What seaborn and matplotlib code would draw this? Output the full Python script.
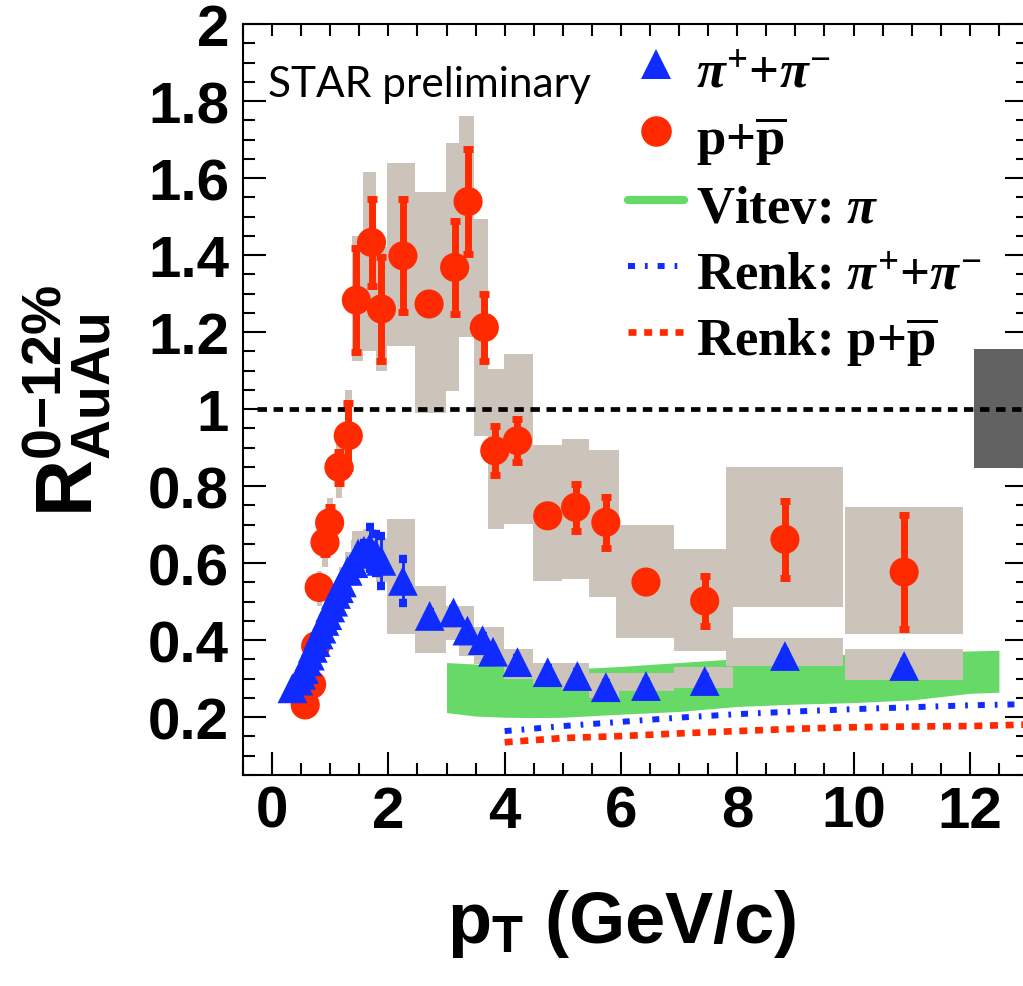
import matplotlib
matplotlib.use("Agg")
import numpy as np
import pandas as pd
import matplotlib.pyplot as plt
from matplotlib.lines import Line2D
from matplotlib.font_manager import FontProperties, fontManager
import seaborn as sns

# ---------------- data ----------------
pi_pt = [0.35, 0.45, 0.50, 0.55, 0.60, 0.65, 0.70, 0.75, 0.80, 0.85, 0.90, 0.95, 1.00, 1.05,
         1.10, 1.15, 1.20, 1.30, 1.40, 1.48, 1.58, 1.68, 1.78, 1.88, 2.25, 2.71, 3.12, 3.36,
         3.62, 3.80, 4.22, 4.74, 5.25, 5.74, 6.43, 7.44, 8.82, 10.87]
pi_val = [0.275, 0.295, 0.310, 0.325, 0.345, 0.360, 0.380, 0.395, 0.415, 0.430, 0.450, 0.465,
          0.485, 0.500, 0.520, 0.535, 0.550, 0.580, 0.600, 0.625, 0.632, 0.640, 0.625, 0.606,
          0.554, 0.463, 0.472, 0.425, 0.400, 0.370, 0.343, 0.317, 0.307, 0.278, 0.281, 0.294,
          0.359, 0.333]
pi_stat = [0.005, 0.005, 0.005, 0.005, 0.005, 0.005, 0.005, 0.005, 0.005, 0.005, 0.005, 0.005,
           0.005, 0.005, 0.005, 0.005, 0.005, 0.005, 0.01, 0.01, 0.02, 0.055, 0.05, 0.065,
           0.057, 0.01, 0.01, 0.01, 0.01, 0.01, 0.01, 0.01, 0.01, 0.01, 0.01, 0.01, 0.01, 0.01]
pi_sys_lo = [0.26, 0.28, 0.295, 0.31, 0.33, 0.345, 0.36, 0.375, 0.395, 0.41, 0.43, 0.44, 0.46,
             0.475, 0.495, 0.51, 0.525, 0.55, 0.57, 0.57, 0.58, 0.585, 0.575, 0.55, 0.416,
             0.368, 0.40, 0.36, 0.338, 0.338, 0.30, 0.285, 0.27, 0.25, 0.268, 0.277, 0.332, 0.297]
pi_sys_hi = [0.29, 0.31, 0.325, 0.34, 0.36, 0.375, 0.40, 0.415, 0.435, 0.45, 0.47, 0.49, 0.51,
             0.525, 0.545, 0.56, 0.59, 0.63, 0.66, 0.684, 0.68, 0.69, 0.675, 0.665, 0.714,
             0.541, 0.489, 0.489, 0.433, 0.433, 0.377, 0.342, 0.342, 0.316, 0.316, 0.33, 0.407, 0.378]
pi_bin_lo = [0.30, 0.40, 0.45, 0.50, 0.55, 0.60, 0.65, 0.70, 0.75, 0.80, 0.85, 0.90, 0.95, 1.00,
             1.05, 1.10, 1.15, 1.25, 1.35, 1.37, 1.53, 1.57, 1.73, 1.79, 1.97, 2.46, 2.99, 3.21,
             3.48, 3.71, 3.98, 4.48, 4.99, 5.45, 5.91, 6.92, 7.80, 9.86]
pi_bin_hi = [0.40, 0.50, 0.55, 0.60, 0.65, 0.70, 0.75, 0.80, 0.85, 0.90, 0.95, 1.00, 1.05, 1.10,
             1.15, 1.20, 1.25, 1.35, 1.45, 1.57, 1.63, 1.79, 1.83, 1.97, 2.46, 2.99, 3.21, 3.48,
             3.71, 3.98, 4.48, 4.99, 5.45, 5.96, 6.92, 7.93, 9.82, 11.89]

p_pt = [0.57, 0.68, 0.75, 0.81, 0.91, 0.99, 1.15, 1.31, 1.45, 1.71, 1.88, 2.25, 2.70, 3.14,
        3.37, 3.65, 3.83, 4.22, 4.74, 5.22, 5.74, 6.43, 7.44, 8.82, 10.87]
p_val = [0.232, 0.285, 0.385, 0.537, 0.654, 0.705, 0.849, 0.931, 1.283, 1.433, 1.260, 1.398,
         1.273, 1.368, 1.539, 1.212, 0.892, 0.918, 0.723, 0.745, 0.706, 0.551, 0.502, 0.662, 0.577]
p_stat = [0.01, 0.015, 0.02, 0.02, 0.03, 0.04, 0.04, 0.085, 0.135, 0.112, 0.135, 0.147, 0.01,
          0.12, 0.136, 0.087, 0.063, 0.056, 0.01, 0.061, 0.067, 0.01, 0.065, 0.10, 0.149]
p_sys_lo = [0.21, 0.26, 0.35, 0.49, 0.59, 0.64, 0.77, 0.84, 1.125, 1.15, 1.10, 1.164, 0.99,
            1.047, 1.186, 0.931, 0.688, 0.701, 0.554, 0.558, 0.511, 0.407, 0.372, 0.485, 0.416]
p_sys_hi = [0.25, 0.31, 0.42, 0.58, 0.71, 0.77, 0.93, 1.05, 1.45, 1.616, 1.42, 1.639, 1.563,
            1.692, 1.762, 1.494, 1.104, 1.143, 0.906, 0.922, 0.894, 0.70, 0.636, 0.851, 0.747]
p_bin_lo = [0.52, 0.63, 0.71, 0.77, 0.86, 0.95, 1.10, 1.25, 1.37, 1.57, 1.79, 1.97, 2.46, 2.99,
            3.21, 3.48, 3.71, 3.98, 4.48, 4.99, 5.45, 5.91, 6.92, 7.80, 9.86]
p_bin_hi = [0.62, 0.73, 0.79, 0.85, 0.96, 1.04, 1.20, 1.37, 1.57, 1.79, 1.97, 2.46, 2.99, 3.21,
            3.48, 3.71, 3.98, 4.48, 4.99, 5.45, 5.96, 6.92, 7.93, 9.82, 11.89]

vitev_pt = [3.0, 3.5, 4.0, 4.5, 5.0, 5.5, 6.0, 7.0, 8.0, 9.0, 10.0, 11.0, 12.0, 12.5]
vitev_lo = [0.212, 0.203, 0.200, 0.199, 0.200, 0.204, 0.208, 0.215, 0.228, 0.234, 0.238, 0.245, 0.262, 0.265]
vitev_hi = [0.342, 0.338, 0.333, 0.328, 0.326, 0.328, 0.332, 0.342, 0.352, 0.358, 0.364, 0.368, 0.372, 0.374]

renk_pt = [4.0, 5.0, 6.0, 7.0, 8.0, 9.0, 10.0, 11.0, 12.0, 13.0]
renk_pi_val = [0.164, 0.177, 0.188, 0.199, 0.208, 0.215, 0.221, 0.226, 0.231, 0.234]
renk_p_val = [0.135, 0.146, 0.151, 0.158, 0.164, 0.170, 0.174, 0.176, 0.177, 0.181]

norm_x = [12.07]
norm_w = [0.93]
norm_lo = [0.846]
norm_hi = [1.157]

x_ticks = [0, 2, 4, 6, 8, 10, 12]
x_ticklabels = ["0", "2", "4", "6", "8", "10", "12"]
y_ticks = [0.2, 0.4, 0.6, 0.8, 1.0, 1.2, 1.4, 1.6, 1.8, 2.0]
y_ticklabels = ["0.2", "0.4", "0.6", "0.8", "1", "1.2", "1.4", "1.6", "1.8", "2"]

legend_labels = [r"$\pi^{+}$+$\pi^{-}$", r"p+$\overline{\mathrm{p}}$", r"Vitev: $\pi$",
                 r"Renk: $\pi^{+}$+$\pi^{-}$", r"Renk: p+$\overline{\mathrm{p}}$"]

# ---------------- style ----------------
RED = "#ff2a00"
BLUE = "#0f2bff"
GREEN = "#66d966"
GRAY = "#ccc4bb"
DARK = "#626262"

names = {f.name for f in fontManager.ttflist}
narrow = "Liberation Sans Narrow" if "Liberation Sans Narrow" in names else "Liberation Sans"
xlabel_size = 62 if narrow == "Liberation Sans Narrow" else 52

sns.set_theme(style="ticks")
plt.rcParams.update({
    "font.family": ["Liberation Sans", "DejaVu Sans"],
    "font.weight": "bold",
    "mathtext.fontset": "custom",
    "mathtext.rm": "Liberation Serif:bold",
    "mathtext.it": "Liberation Serif:italic:bold",
    "mathtext.bf": f"{narrow}:bold",
    "mathtext.sf": "Liberation Sans:bold",
    "axes.linewidth": 1.5,
    "axes.edgecolor": "black",
    "xtick.color": "black",
    "ytick.color": "black",
    "text.color": "black",
    "axes.labelcolor": "black",
})

fig = plt.figure(figsize=(10.23, 9.87), dpi=100, facecolor="white")
ax = fig.add_axes([243 / 1023, 1 - 776 / 987, (1028 - 243) / 1023, (776 - 25) / 987])
ax.set_facecolor("white")

# systematic boxes
ax.bar(pi_bin_lo, np.array(pi_sys_hi) - np.array(pi_sys_lo), bottom=pi_sys_lo,
       width=np.array(pi_bin_hi) - np.array(pi_bin_lo), align="edge", color=GRAY,
       linewidth=0, zorder=2)
ax.bar(p_bin_lo, np.array(p_sys_hi) - np.array(p_sys_lo), bottom=p_sys_lo,
       width=np.array(p_bin_hi) - np.array(p_bin_lo), align="edge", color=GRAY,
       linewidth=0, zorder=2)
ax.bar(norm_x, np.array(norm_hi) - np.array(norm_lo), bottom=norm_lo, width=norm_w,
       align="edge", color=DARK, linewidth=0, zorder=2)

# Vitev band
ax.fill_between(vitev_pt, vitev_lo, vitev_hi, color=GREEN, linewidth=0, zorder=1)

# unity line
ax.axhline(1.0, xmin=0.018, color="black", lw=3.4, linestyle=(0, (2.0, 1.4)), zorder=2.5)

# Renk curves
sns.lineplot(x=renk_pt, y=renk_pi_val, ax=ax, color=BLUE, lw=4.3,
             linestyle=(0, (1.17, 1.67, 0.45, 1.67)), legend=False, zorder=3)
sns.lineplot(x=renk_pt, y=renk_p_val, ax=ax, color=RED, lw=4.8,
             linestyle=(0, (1.2, 1.15)), legend=False, zorder=3)

# protons
ax.errorbar(p_pt, p_val, yerr=p_stat, fmt="none", ecolor=RED, elinewidth=5,
            capsize=3.6, capthick=5, zorder=4)
sns.scatterplot(x=p_pt, y=p_val, ax=ax, marker="o", s=440, color=RED,
                edgecolor="none", linewidth=0, legend=False, zorder=4)

# pions
ax.errorbar(pi_pt, pi_val, yerr=pi_stat, fmt="none", ecolor=BLUE, elinewidth=2,
            capsize=3, capthick=6, zorder=5)
sns.scatterplot(x=pi_pt, y=pi_val, ax=ax, marker="^", s=460, color=BLUE,
                edgecolor="none", linewidth=0, legend=False, zorder=5)

# axes
ax.set_xlim(-0.5, 13.0)
ax.set_ylim(0.05, 2.0)
ax.set_xticks(x_ticks, x_ticklabels)
ax.set_yticks(y_ticks, y_ticklabels)
ax.set_xticks(np.arange(-0.5, 13.01, 0.5), minor=True)
ax.set_yticks(np.arange(0.05, 2.001, 0.05), minor=True)
ax.tick_params(axis="both", which="both", direction="in", top=True, right=True,
               width=1.5, labelsize=42)
ax.tick_params(axis="both", which="major", length=16.5)
ax.tick_params(axis="both", which="minor", length=8.6)
ax.tick_params(axis="x", which="major", pad=7)
ax.tick_params(axis="y", which="major", pad=10)
for t in ax.xaxis.get_major_ticks():
    t.tick2line.set_markersize(8.6)
for sp in ax.spines.values():
    sp.set_linewidth(1.5)
    sp.set_color("black")

ax.set_ylabel(r"$\mathsf{R}^{\mathsf{0{-}12\%}}_{\mathsf{AuAu}}$", fontsize=57)
ax.yaxis.set_label_coords(-0.165, 0.5)
ax.set_xlabel(r"$\mathbf{p}_{\mathbf{T}}$ (GeV/c)", fontsize=xlabel_size,
              fontfamily=narrow, fontweight="bold")
ax.xaxis.set_label_coords(0.482, -0.149)

ax.text(-0.07, 1.813, "STAR preliminary", fontfamily="Lato", fontweight="normal",
        fontsize=30.5, ha="left", va="baseline", zorder=6)

handles = [
    Line2D([], [], marker="^", color=BLUE, markersize=21.5, linestyle="none", markeredgewidth=0),
    Line2D([], [], marker="o", color=RED, markersize=22, linestyle="none", markeredgewidth=0),
    Line2D([], [], color=GREEN, lw=6),
    Line2D([], [], color=BLUE, lw=4.3, linestyle=(0, (1.17, 1.67, 0.45, 1.67))),
    Line2D([], [], color=RED, lw=4.8, linestyle=(0, (1.2, 1.15))),
]
leg = ax.legend(handles, legend_labels, loc="upper left", bbox_to_anchor=(0.49, 0.976),
                frameon=False, prop=FontProperties(family="Liberation Serif", weight="bold", size=38),
                handlelength=1.06, handletextpad=0.23, borderpad=0, borderaxespad=0,
                labelspacing=0.2, handleheight=1.2)
leg.set_zorder(7)

fig.savefig("out.png", dpi=100, facecolor="white")
